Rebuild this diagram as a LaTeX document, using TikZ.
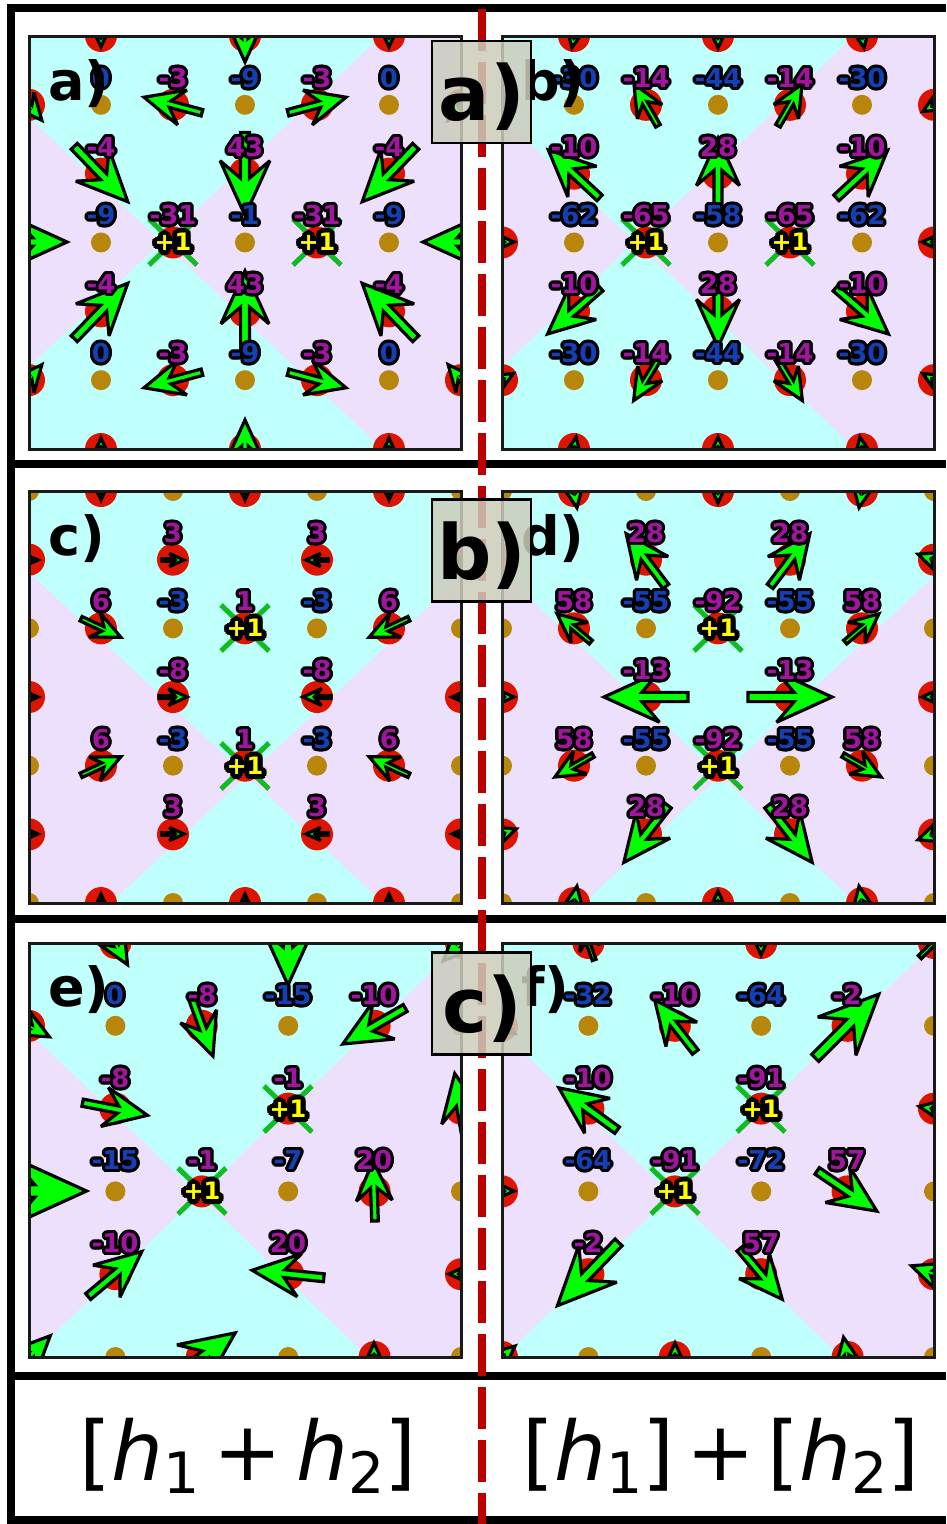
\documentclass[tikz,border=0pt]{standalone}
\usepackage{fontspec}
\newfontfamily\djv{DejaVu Sans}[BoldFont={DejaVu Sans Bold},ItalicFont={DejaVu Sans Oblique}]
\definecolor{cya}{HTML}{BFFFFC}
\definecolor{lav}{HTML}{ECE0FC}
\definecolor{goldsite}{HTML}{B8860B}
\definecolor{redsite}{HTML}{DD1500}
\definecolor{arrgreen}{HTML}{00FF00}
\definecolor{xgreen}{HTML}{11BB22}
\definecolor{lb}{HTML}{1440B4}
\definecolor{lm}{HTML}{A0169E}
\definecolor{ylw}{HTML}{FFFF00}
\definecolor{dashred}{HTML}{BB0000}
\definecolor{boxgray}{HTML}{CDCDBC}
\tikzset{
  frame/.style={draw=black,line width=8pt},
  panelbox/.style={draw=black!90,line width=3pt},
  quiv/.style={fill=arrgreen,draw=black,line width=3.2pt,line join=miter,miter limit=3},
  lab/.style={font={\djv\bfseries\fontsize{26}{26}\selectfont},inner sep=0pt},
  plus/.style={font={\djv\bfseries\fontsize{24}{24}\selectfont},inner sep=0pt},
  xmark/.style={draw=xgreen,line width=5pt},
  tag/.style={font={\djv\bfseries\fontsize{54}{54}\selectfont},inner sep=0pt,anchor=base west},
  tagbox/.style={draw=black,line width=2.5pt,fill=boxgray,fill opacity=0.85},
  bigtag/.style={font={\djv\bfseries\fontsize{76}{76}\selectfont},inner sep=0pt},
  btxt/.style={font={\djv\fontsize{82}{82}\selectfont},inner sep=0pt,anchor=base},
}
\newcommand{\loff}{27}
% x, y(site), colour, text
\newcommand{\olab}[4]{%
  \foreach \oa in {0,22.5,...,337.5}{\node[lab,text=black] at ([shift={(\oa:3.2pt)}]#1,{#2-\loff}) {#4};}
  \node[lab,text=#3] at (#1,{#2-\loff}) {#4};}
\newcommand{\plab}[2]{%
  \foreach \oa in {0,22.5,...,337.5}{\node[plus,text=black] at ([shift={(\oa:5pt)}]#1,#2) {+1};}
  \node[plus,text=ylw] at (#1,#2) {+1};}
% x, y, angle, length
\newcommand{\qv}[4]{%
  \begin{scope}[shift={(#1,#2)},rotate=#3]
    \filldraw[quiv] ({0.5*#4},0) -- ({-0.16*#4},{0.3*#4}) -- ({0.05*#4},{0.055*#4})
      -- ({-0.5*#4},{0.055*#4}) -- ({-0.5*#4},{-0.055*#4}) -- ({0.05*#4},{-0.055*#4})
      -- ({-0.16*#4},{-0.3*#4}) -- cycle;
  \end{scope}}
\newcommand{\xmk}[2]{%
  \draw[xmark] ({#1-24},{#2-23}) -- ({#1+24},{#2+23});
  \draw[xmark] ({#1-24},{#2+23}) -- ({#1+24},{#2-23});}
% x0, y0, x1, y1, cx, cy, slope
\newcommand{\panelbg}[7]{%
  \fill[lav] (#1,#2) rectangle (#3,#4);
  \fill[cya] (#5,#6) -- ++(-600,{-600*#7}) -- ++(1200,0) -- cycle;
  \fill[cya] (#5,#6) -- ++(-600,{600*#7}) -- ++(1200,0) -- cycle;}
% x0, y0, dx, dy, nmax, parity
\newcommand{\lattice}[6]{%
  \foreach \m in {0,...,#5}{%
    \foreach \n in {0,...,#5}{%
      \pgfmathtruncatemacro\s{\m+\n}%
      \pgfmathtruncatemacro\g{mod(\m+#6,2)}%
      \ifodd\s
        \fill[redsite] ({#1+#3*\m},{#2+#4*\n}) circle (16);
      \else\ifnum\g=1
        \fill[goldsite] ({#1+#3*\m},{#2+#4*\n}) circle (10);
      \fi\fi}}}
\newcommand{\hsb}[1]{\raisebox{-13pt}{\fontsize{57}{57}\selectfont #1}}
\begin{document}
\begin{tikzpicture}[x=1pt,y=-1pt]
  \useasboundingbox (0,0) rectangle (946,1524);
  \fill[white] (0,0) rectangle (946,1524);

  % row 1, panel a
  \begin{scope}
    \clip (29,36) rectangle (461,449);
    \panelbg{29}{36}{461}{449}{162}{242}{0.94}
    \foreach \x in {173,317} {\xmk{\x}{242}}
    \lattice{29}{36}{72}{68.83}{6}{0}
    \foreach \x/\y/\ang/\len in {173/105/165/60,317/105/15/60,101/174/-46/77,245/174/-90/83,
      389/174/-134/77,29/242/0/76,461/242/180/76,101/311/46/77,245/311/90/80,389/311/134/77,
      173/380/-165/60,317/380/-15/60,245/36/-90/52,245/449/90/58,29/105/-50/40,29/380/50/40,
      461/105/-130/40,461/380/130/40,101/36/-90/22,389/36/-90/22,101/449/90/22,389/449/90/22}
      {\qv{\x}{\y}{\ang}{\len}}
  \end{scope}
  \draw[panelbox] (29,36) rectangle (461,449);
  \foreach \y in {105,380}{\foreach \x/\col/\txt in {101/lb/0,173/lm/-3,245/lb/-9,317/lm/-3,389/lb/0}{\olab{\x}{\y}{\col}{\txt}}}
  \foreach \y in {174,311}{\foreach \x/\txt in {101/-4,245/43,389/-4}{\olab{\x}{\y}{lm}{\txt}}}
  \foreach \x/\col/\txt in {101/lb/-9,173/lm/-31,245/lb/-1,317/lm/-31,389/lb/-9}{\olab{\x}{242}{\col}{\txt}}
  \foreach \x in {173,317}{\plab{\x}{242}}
  \node[tag] (taga) at (48,100) {a)};

  % row 1, panel b
  \begin{scope}
    \clip (502,36) rectangle (934,449);
    \panelbg{502}{36}{934}{449}{635}{242}{0.94}
    \foreach \x in {646,790} {\xmk{\x}{242}}
    \lattice{502}{36}{72}{68.83}{6}{0}
    \foreach \x/\y/\ang/\len in {646/105/120/48,790/105/60/48,574/174/137/70,718/174/90/72,
      862/174/43/70,574/311/-139/70,718/311/-90/72,862/311/-41/70,646/380/-121/48,790/380/-59/48,
      502/242/0/24,934/242/180/24,502/380/30/26,934/105/-150/26,934/380/150/26,502/105/-30/26,
      574/36/-100/24,718/36/-90/24,862/36/-80/24,574/449/80/24,718/449/90/24,862/449/100/24}
      {\qv{\x}{\y}{\ang}{\len}}
  \end{scope}
  \draw[panelbox] (502,36) rectangle (934,449);
  \foreach \y in {105,380}{\foreach \x/\col/\txt in {574/lb/-30,646/lm/-14,718/lb/-44,790/lm/-14,862/lb/-30}{\olab{\x}{\y}{\col}{\txt}}}
  \foreach \y in {174,311}{\foreach \x/\txt in {574/-10,718/28,862/-10}{\olab{\x}{\y}{lm}{\txt}}}
  \foreach \x/\col/\txt in {574/lb/-62,646/lm/-65,718/lb/-58,790/lm/-65,862/lb/-62}{\olab{\x}{242}{\col}{\txt}}
  \foreach \x in {646,790}{\plab{\x}{242}}
  \node[tag] (tagb) at (521,100) {b)};

  % row 2, panel c
  \begin{scope}
    \clip (29,491) rectangle (461,903);
    \panelbg{29}{491}{461}{903}{247}{776}{0.935}
    \foreach \y in {628,766} {\xmk{245}{\y}}
    \lattice{29}{491}{72}{68.67}{6}{1}
    \foreach \x/\y/\ang/\len in {173/560/0/22,317/560/180/22,101/628/-25/44,389/628/-155/44,
      101/766/25/44,389/766/155/44,173/697/0/28,317/697/180/28,173/834/0/22,317/834/180/22,
      29/560/0/18,29/697/0/18,29/834/0/18,461/560/180/18,461/697/180/18,461/834/180/18,
      101/491/-90/18,245/491/-90/18,389/491/-90/18,101/903/90/18,245/903/90/18,389/903/90/18}
      {\qv{\x}{\y}{\ang}{\len}}
  \end{scope}
  \draw[panelbox] (29,491) rectangle (461,903);
  \foreach \y in {560,834}{\foreach \x in {173,317}{\olab{\x}{\y}{lm}{3}}}
  \foreach \y in {628,766}{\foreach \x/\col/\txt in {101/lm/6,173/lb/-3,245/lm/1,317/lb/-3,389/lm/6}{\olab{\x}{\y}{\col}{\txt}}}
  \foreach \x in {173,317}{\olab{\x}{697}{lm}{-8}}
  \foreach \y in {628,766}{\plab{245}{\y}}
  \node[tag] (tagc) at (48,555) {c)};

  % row 2, panel d
  \begin{scope}
    \clip (502,491) rectangle (934,903);
    \panelbg{502}{491}{934}{903}{720}{776}{0.935}
    \foreach \y in {628,766} {\xmk{718}{\y}}
    \lattice{502}{491}{72}{68.67}{6}{1}
    \foreach \x/\y/\ang/\len in {646/560/127/66,790/560/53/66,574/628/140/44,862/628/40/44,
      646/697/180/84,790/697/0/84,574/766/-150/44,862/766/-30/44,646/834/-128/72,790/834/-52/72,
      574/491/-80/34,718/491/-90/24,862/491/-100/34,574/903/80/34,718/903/90/24,862/903/100/34,
      502/697/0/24,502/834/20/30,934/560/160/34,934/697/180/24,934/834/-160/34}
      {\qv{\x}{\y}{\ang}{\len}}
  \end{scope}
  \draw[panelbox] (502,491) rectangle (934,903);
  \foreach \y in {560,834}{\foreach \x in {646,790}{\olab{\x}{\y}{lm}{28}}}
  \foreach \y in {628,766}{\foreach \x/\col/\txt in {574/lm/58,646/lb/-55,718/lm/-92,790/lb/-55,862/lm/58}{\olab{\x}{\y}{\col}{\txt}}}
  \foreach \x in {646,790}{\olab{\x}{697}{lm}{-13}}
  \foreach \y in {628,766}{\plab{718}{\y}}
  \node[tag] (tagd) at (521,555) {d)};

  % row 3, panel e
  \renewcommand{\loff}{31}
  \begin{scope}
    \clip (29,943) rectangle (461,1357);
    \panelbg{29}{943}{461}{1357}{199}{1195}{0.96}
    \xmk{288}{1109} \xmk{202}{1191}
    \lattice{29}{943}{86.4}{82.8}{5}{0}
    \foreach \x/\y/\ang/\len in {202/1026/-70/64,374/1026/-150/72,115/1109/-11/66,374/1191/92/60,
      115/1274/40/70,288/1274/174/72,29/1191/0/115,288/943/-90/84,115/943/-60/50,461/1109/100/72,
      202/1357/36/82,29/1026/-28/46,29/1357/45/60,374/1357/90/28,461/1274/180/24,461/943/-135/50}
      {\qv{\x}{\y}{\ang}{\len}}
  \end{scope}
  \draw[panelbox] (29,943) rectangle (461,1357);
  \foreach \x/\col/\txt in {115/lb/0,202/lm/-8,288/lb/-15,374/lm/-10}{\olab{\x}{1026}{\col}{\txt}}
  \foreach \x/\txt in {115/-8,288/-1}{\olab{\x}{1109}{lm}{\txt}}
  \foreach \x/\col/\txt in {115/lb/-15,202/lm/-1,288/lb/-7,374/lm/20}{\olab{\x}{1191}{\col}{\txt}}
  \foreach \x/\txt in {115/-10,288/20}{\olab{\x}{1274}{lm}{\txt}}
  \plab{288}{1109} \plab{202}{1191}
  \node[tag] (tage) at (48,1006) {e)};

  % row 3, panel f
  \begin{scope}
    \clip (502,943) rectangle (934,1357);
    \panelbg{502}{943}{934}{1357}{672}{1195}{0.96}
    \xmk{761}{1109} \xmk{675}{1191}
    \lattice{502}{943}{86.4}{82.8}{5}{0}
    \foreach \x/\y/\ang/\len in {675/1026/128/66,847/1026/45/90,588/1109/144/72,847/1191/-34/72,
      588/1274/-134/88,761/1274/-50/66,588/943/110/36,761/943/-90/24,934/943/45/40,934/1109/170/30,
      934/1274/160/48,675/1357/90/28,847/1357/100/40,502/1191/0/24,502/1357/40/34,502/1026/-30/30}
      {\qv{\x}{\y}{\ang}{\len}}
  \end{scope}
  \draw[panelbox] (502,943) rectangle (934,1357);
  \foreach \x/\col/\txt in {588/lb/-32,675/lm/-10,761/lb/-64,847/lm/-2}{\olab{\x}{1026}{\col}{\txt}}
  \foreach \x/\txt in {588/-10,761/-91}{\olab{\x}{1109}{lm}{\txt}}
  \foreach \x/\col/\txt in {588/lb/-64,675/lm/-91,761/lb/-72,847/lm/57}{\olab{\x}{1191}{\col}{\txt}}
  \foreach \x/\txt in {588/-2,761/57}{\olab{\x}{1274}{lm}{\txt}}
  \plab{761}{1109} \plab{675}{1191}
  \node[tag] (tagf) at (521,1006) {f)};

  % frame and separators
  \draw[frame] (11,1524) -- (11,8) -- (946,8);
  \foreach \y in {464,919,1376,1520} {\draw[frame] (7,\y) -- (946,\y);}

  % bottom formulas
  \node[btxt] (lhs) at (248,1480) {[{\itshape h}\hsb{1}\hspace{14pt}+\hspace{14pt}{\itshape h}\hsb{2}]};
  \node[btxt] (rhs) at (721,1480) {[{\itshape h}\hsb{1}]\hspace{12pt}+\hspace{12pt}[{\itshape h}\hsb{2}]};

  % dashed divider
  \draw[dashred,line width=8pt,dash pattern=on 42pt off 11pt] (481.5,-44) -- (481.5,1524);

  % row tags
  \foreach \y/\txt [count=\i] in {92/a),550.5/b),1003.5/c)} {
    \draw[tagbox] (432,{\y-51}) rectangle (531,{\y+51});
    \node[bigtag] (box\i) at (482,{\y+5}) {\txt};
  }
\end{tikzpicture}
\end{document}
